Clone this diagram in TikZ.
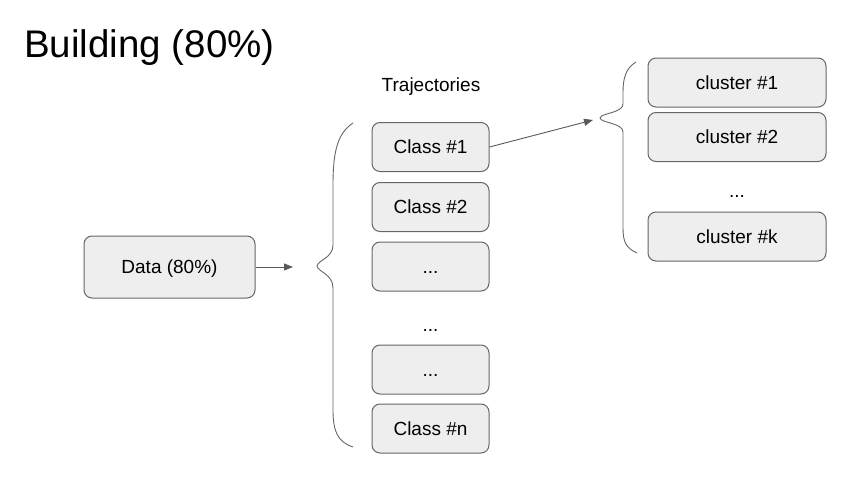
\documentclass[tikz,border=0pt]{standalone}
\usepackage{fontspec}
\setmainfont{Liberation Sans}
\usetikzlibrary{arrows.meta,positioning}
\definecolor{boxfill}{HTML}{EEEEEE}
\definecolor{boxline}{HTML}{666666}
\definecolor{arrowgray}{HTML}{595959}

\begin{document}
\begin{tikzpicture}[x=1pt,y=-1pt,
		box/.style={draw=boxline, fill=boxfill, rounded corners=8pt, line width=1pt,
			minimum height=49pt, inner sep=0pt, text height=14pt, text depth=0.5pt,
			font=\fontsize{19}{22}\selectfont},
		txt/.style={inner sep=0pt, text height=14pt, text depth=0.5pt, font=\fontsize{19}{22}\selectfont},
		conn/.style={draw=arrowgray, line width=0.9pt, -{Triangle[length=9pt,width=7pt]}},
		brace/.style={draw=boxline, line width=0.9pt}]
		\useasboundingbox (0,0) rectangle (860,498);
		\node[anchor=base west, inner sep=0pt, font=\fontsize{38.5}{45}\selectfont] (title) at (24,57) {Building (80\%)};
		% data block
		\node[box, minimum width=171pt, minimum height=62pt] (data) at (169.5,267) {Data (80\%)};
		\coordinate (dataend) at (293,267);
		\draw[conn] (data) -- (dataend);
		% trajectories
		\node[txt] (traj) at (431,85) {Trajectories};
		\draw[brace] (353,123) .. controls (338,133) and (333,150) .. (333,185) -- (333,245)
			.. controls (333,258) and (318,260) .. (317,266)
			.. controls (318,272) and (333,274) .. (333,288) -- (333,410)
			.. controls (333,432) and (338,442) .. (353,447);
		\node[box, minimum width=117pt] (class1) at (430.5,147) {Class \#1};
		\node[box, minimum width=117pt] (class2) at (430.5,207) {Class \#2};
		\node[box, minimum width=117pt] (class3) at (430.5,266.5) {...};
		\node[txt] (classdots) at (430.5,325) {...};
		\node[box, minimum width=117pt] (classm) at (430.5,369.5) {...};
		\node[box, minimum width=117pt] (classn) at (430.5,428.5) {Class \#n};
		% clusters
		\coordinate (clusttip) at (593,120);
		\draw[conn] (class1.east) -- (clusttip);
		\draw[brace] (636,62) .. controls (626,68) and (623,78) .. (623,92) -- (623,104)
			.. controls (623,113) and (601,113) .. (600,118)
			.. controls (601,123) and (623,123) .. (623,132) -- (623,228)
			.. controls (623,242) and (626,248) .. (637,253);
		\node[box, minimum width=178pt] (clust1) at (737,82.5) {cluster \#1};
		\node[box, minimum width=178pt] (clust2) at (737,137) {cluster \#2};
		\node[txt] (clustdots) at (737,191) {...};
		\node[box, minimum width=178pt] (clustk) at (737,236.5) {cluster \#k};
	\end{tikzpicture}
\end{document}
